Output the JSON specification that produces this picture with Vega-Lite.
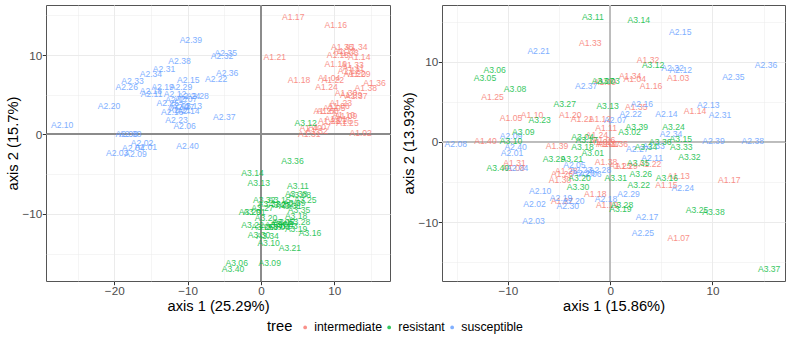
{
 "$schema": "https://vega.github.io/schema/vega-lite/v6.json",
 "padding": {"left": 4, "top": 3, "right": 4, "bottom": 0},
 "background": "white",
 "config": {
  "font": "Liberation Sans",
  "view": {"stroke": "#555555", "strokeWidth": 1},
  "axis": {"grid": true, "gridColor": "#EBEBEB", "domain": false, "tickColor": "#333333", "tickSize": 3.7, "labelColor": "#4D4D4D", "labelFontSize": 11.7, "labelPadding": 0.5, "titleFontSize": 14.7, "titleFontWeight": "normal", "titleColor": "#000000", "titlePadding": 1.5,
   "labelExpr": "datum.value % 10 == 0 ? datum.label : ''",
   "tickOpacity": {"condition": {"test": "datum.value % 10 == 0", "value": 1}, "value": 0},
   "gridWidth": {"condition": {"test": "datum.value % 10 == 0", "value": 1}, "value": 0.5}},
  "legend": {"titleFontSize": 14.7, "titleFontWeight": "normal", "labelFontSize": 12.3, "titleColor": "#000", "labelColor": "#000"}
 },
 "data": {"values": [
  {"panel":"left","label":"A1.01","tree":"intermediate","x":10.2,"y":2.0},
  {"panel":"left","label":"A1.02","tree":"intermediate","x":13.6,"y":0.2},
  {"panel":"left","label":"A1.03","tree":"intermediate","x":11.8,"y":10.2},
  {"panel":"left","label":"A1.04","tree":"intermediate","x":9.3,"y":7.1},
  {"panel":"left","label":"A1.05","tree":"intermediate","x":10.0,"y":3.3},
  {"panel":"left","label":"A1.06","tree":"intermediate","x":10.6,"y":3.6},
  {"panel":"left","label":"A1.07","tree":"intermediate","x":8.0,"y":1.0},
  {"panel":"left","label":"A1.08","tree":"intermediate","x":9.1,"y":2.9},
  {"panel":"left","label":"A1.09","tree":"intermediate","x":11.6,"y":2.3},
  {"panel":"left","label":"A1.10","tree":"intermediate","x":11.3,"y":2.5},
  {"panel":"left","label":"A1.11","tree":"intermediate","x":12.6,"y":8.4},
  {"panel":"left","label":"A1.12","tree":"intermediate","x":12.0,"y":8.0},
  {"panel":"left","label":"A1.13","tree":"intermediate","x":11.4,"y":10.5},
  {"panel":"left","label":"A1.14","tree":"intermediate","x":13.4,"y":9.8},
  {"panel":"left","label":"A1.15","tree":"intermediate","x":10.5,"y":10.0},
  {"panel":"left","label":"A1.16","tree":"intermediate","x":10.2,"y":13.8},
  {"panel":"left","label":"A1.17","tree":"intermediate","x":4.4,"y":14.8},
  {"panel":"left","label":"A1.18","tree":"intermediate","x":5.2,"y":6.9},
  {"panel":"left","label":"A1.19","tree":"intermediate","x":10.2,"y":8.9},
  {"panel":"left","label":"A1.20","tree":"intermediate","x":12.8,"y":7.6},
  {"panel":"left","label":"A1.21","tree":"intermediate","x":1.9,"y":9.7},
  {"panel":"left","label":"A1.22","tree":"intermediate","x":9.8,"y":6.9},
  {"panel":"left","label":"A1.23","tree":"intermediate","x":10.9,"y":4.0},
  {"panel":"left","label":"A1.24","tree":"intermediate","x":8.95,"y":6.0},
  {"panel":"left","label":"A1.25","tree":"intermediate","x":11.8,"y":1.4},
  {"panel":"left","label":"A1.26","tree":"intermediate","x":10.9,"y":1.7},
  {"panel":"left","label":"A1.27","tree":"intermediate","x":8.7,"y":3.0},
  {"panel":"left","label":"A1.28","tree":"intermediate","x":9.3,"y":1.7},
  {"panel":"left","label":"A1.29","tree":"intermediate","x":13.4,"y":7.6},
  {"panel":"left","label":"A1.30","tree":"intermediate","x":11.6,"y":5.2},
  {"panel":"left","label":"A1.31","tree":"intermediate","x":6.6,"y":0.0},
  {"panel":"left","label":"A1.32","tree":"intermediate","x":7.6,"y":0.4},
  {"panel":"left","label":"A1.33","tree":"intermediate","x":12.5,"y":8.7},
  {"panel":"left","label":"A1.34","tree":"intermediate","x":13.0,"y":11.0},
  {"panel":"left","label":"A1.35","tree":"intermediate","x":11.1,"y":11.0},
  {"panel":"left","label":"A1.36","tree":"intermediate","x":15.5,"y":6.5},
  {"panel":"left","label":"A1.37","tree":"intermediate","x":13.0,"y":4.9},
  {"panel":"left","label":"A1.38","tree":"intermediate","x":14.3,"y":5.8},
  {"panel":"left","label":"A1.39","tree":"intermediate","x":12.3,"y":5.0},
  {"panel":"left","label":"A1.40","tree":"intermediate","x":6.8,"y":0.8},
  {"panel":"left","label":"A2.01","tree":"susceptible","x":-15.7,"y":-1.6},
  {"panel":"left","label":"A2.02","tree":"susceptible","x":-16.2,"y":-1.05},
  {"panel":"left","label":"A2.03","tree":"susceptible","x":-19.6,"y":-2.3},
  {"panel":"left","label":"A2.04","tree":"susceptible","x":-17.4,"y":-1.65},
  {"panel":"left","label":"A2.05","tree":"susceptible","x":-11.1,"y":3.55},
  {"panel":"left","label":"A2.06","tree":"susceptible","x":-10.4,"y":1.05},
  {"panel":"left","label":"A2.07","tree":"susceptible","x":-10.2,"y":4.45},
  {"panel":"left","label":"A2.08","tree":"susceptible","x":-18.3,"y":0.1},
  {"panel":"left","label":"A2.09","tree":"susceptible","x":-17.1,"y":-2.4},
  {"panel":"left","label":"A2.10","tree":"susceptible","x":-27.1,"y":1.2},
  {"panel":"left","label":"A2.11","tree":"susceptible","x":-14.9,"y":5.15},
  {"panel":"left","label":"A2.12","tree":"susceptible","x":-11.7,"y":5.1},
  {"panel":"left","label":"A2.13","tree":"susceptible","x":-9.55,"y":3.55},
  {"panel":"left","label":"A2.14","tree":"susceptible","x":-9.9,"y":3.0},
  {"panel":"left","label":"A2.15","tree":"susceptible","x":-9.9,"y":6.8},
  {"panel":"left","label":"A2.16","tree":"susceptible","x":-12.1,"y":2.8},
  {"panel":"left","label":"A2.17","tree":"susceptible","x":-11.5,"y":4.4},
  {"panel":"left","label":"A2.18","tree":"susceptible","x":-15.0,"y":5.45},
  {"panel":"left","label":"A2.19","tree":"susceptible","x":-13.4,"y":6.0},
  {"panel":"left","label":"A2.20","tree":"susceptible","x":-20.7,"y":3.6},
  {"panel":"left","label":"A2.21","tree":"susceptible","x":-11.1,"y":3.05},
  {"panel":"left","label":"A2.22","tree":"susceptible","x":-6.1,"y":7.0},
  {"panel":"left","label":"A2.23","tree":"susceptible","x":-11.5,"y":1.8},
  {"panel":"left","label":"A2.24","tree":"susceptible","x":-9.8,"y":4.9},
  {"panel":"left","label":"A2.25","tree":"susceptible","x":-12.7,"y":4.0},
  {"panel":"left","label":"A2.26","tree":"susceptible","x":-18.3,"y":6.0},
  {"panel":"left","label":"A2.27","tree":"susceptible","x":-10.6,"y":3.4},
  {"panel":"left","label":"A2.28","tree":"susceptible","x":-8.65,"y":4.9},
  {"panel":"left","label":"A2.29","tree":"susceptible","x":-10.9,"y":6.0},
  {"panel":"left","label":"A2.30","tree":"susceptible","x":-17.8,"y":0.1},
  {"panel":"left","label":"A2.31","tree":"susceptible","x":-13.2,"y":8.2},
  {"panel":"left","label":"A2.32","tree":"susceptible","x":-5.3,"y":9.9},
  {"panel":"left","label":"A2.33","tree":"susceptible","x":-17.5,"y":6.7},
  {"panel":"left","label":"A2.34","tree":"susceptible","x":-15.0,"y":7.6},
  {"panel":"left","label":"A2.35","tree":"susceptible","x":-4.8,"y":10.2},
  {"panel":"left","label":"A2.36","tree":"susceptible","x":-4.6,"y":7.8},
  {"panel":"left","label":"A2.37","tree":"susceptible","x":-5.0,"y":2.2},
  {"panel":"left","label":"A2.38","tree":"susceptible","x":-11.1,"y":9.3},
  {"panel":"left","label":"A2.39","tree":"susceptible","x":-9.55,"y":11.95},
  {"panel":"left","label":"A2.40","tree":"susceptible","x":-10.0,"y":-1.4},
  {"panel":"left","label":"A3.01","tree":"resistant","x":-0.9,"y":-9.8},
  {"panel":"left","label":"A3.02","tree":"resistant","x":2.8,"y":-11.3},
  {"panel":"left","label":"A3.03","tree":"resistant","x":3.5,"y":-11.5},
  {"panel":"left","label":"A3.04","tree":"resistant","x":2.4,"y":-11.7},
  {"panel":"left","label":"A3.05","tree":"resistant","x":3.0,"y":-11.0},
  {"panel":"left","label":"A3.06","tree":"resistant","x":-3.3,"y":-16.2},
  {"panel":"left","label":"A3.07","tree":"resistant","x":1.5,"y":-11.6},
  {"panel":"left","label":"A3.08","tree":"resistant","x":5.3,"y":-7.6},
  {"panel":"left","label":"A3.09","tree":"resistant","x":1.2,"y":-16.2},
  {"panel":"left","label":"A3.10","tree":"resistant","x":1.05,"y":-13.7},
  {"panel":"left","label":"A3.11","tree":"resistant","x":5.05,"y":-6.5},
  {"panel":"left","label":"A3.12","tree":"resistant","x":6.1,"y":1.45},
  {"panel":"left","label":"A3.13","tree":"resistant","x":-0.3,"y":-6.1},
  {"panel":"left","label":"A3.14","tree":"resistant","x":-1.15,"y":-4.8},
  {"panel":"left","label":"A3.15","tree":"resistant","x":2.5,"y":-8.2},
  {"panel":"left","label":"A3.16","tree":"resistant","x":6.7,"y":-12.4},
  {"panel":"left","label":"A3.17","tree":"resistant","x":3.2,"y":-11.0},
  {"panel":"left","label":"A3.18","tree":"resistant","x":4.8,"y":-10.3},
  {"panel":"left","label":"A3.19","tree":"resistant","x":4.8,"y":-11.95},
  {"panel":"left","label":"A3.20","tree":"resistant","x":0.7,"y":-10.5},
  {"panel":"left","label":"A3.21","tree":"resistant","x":3.95,"y":-14.3},
  {"panel":"left","label":"A3.22","tree":"resistant","x":-1.15,"y":-11.4},
  {"panel":"left","label":"A3.23","tree":"resistant","x":2.5,"y":-8.9},
  {"panel":"left","label":"A3.24","tree":"resistant","x":3.6,"y":-8.7},
  {"panel":"left","label":"A3.25","tree":"resistant","x":6.05,"y":-8.3},
  {"panel":"left","label":"A3.26","tree":"resistant","x":0.2,"y":-11.6},
  {"panel":"left","label":"A3.27","tree":"resistant","x":0.2,"y":-9.3},
  {"panel":"left","label":"A3.28","tree":"resistant","x":5.2,"y":-11.0},
  {"panel":"left","label":"A3.29","tree":"resistant","x":-1.5,"y":-9.8},
  {"panel":"left","label":"A3.30","tree":"resistant","x":-0.25,"y":-12.7},
  {"panel":"left","label":"A3.31","tree":"resistant","x":4.0,"y":-9.0},
  {"panel":"left","label":"A3.32","tree":"resistant","x":0.45,"y":-8.3},
  {"panel":"left","label":"A3.33","tree":"resistant","x":1.1,"y":-8.8},
  {"panel":"left","label":"A3.34","tree":"resistant","x":0.9,"y":-12.8},
  {"panel":"left","label":"A3.35","tree":"resistant","x":5.2,"y":-9.5},
  {"panel":"left","label":"A3.36","tree":"resistant","x":4.3,"y":-3.3},
  {"panel":"left","label":"A3.37","tree":"resistant","x":2.05,"y":-11.4},
  {"panel":"left","label":"A3.38","tree":"resistant","x":4.8,"y":-7.5},
  {"panel":"left","label":"A3.39","tree":"resistant","x":4.55,"y":-8.6},
  {"panel":"left","label":"A3.40","tree":"resistant","x":-3.8,"y":-16.9},
  {"panel":"right","label":"A1.01","tree":"intermediate","x":-0.3,"y":-0.3},
  {"panel":"right","label":"A1.02","tree":"intermediate","x":-0.9,"y":0.0},
  {"panel":"right","label":"A1.03","tree":"intermediate","x":6.65,"y":8.0},
  {"panel":"right","label":"A1.04","tree":"intermediate","x":2.4,"y":7.8},
  {"panel":"right","label":"A1.05","tree":"intermediate","x":-9.7,"y":3.0},
  {"panel":"right","label":"A1.06","tree":"intermediate","x":-0.6,"y":0.2},
  {"panel":"right","label":"A1.07","tree":"intermediate","x":6.7,"y":-12.0},
  {"panel":"right","label":"A1.08","tree":"intermediate","x":-9.45,"y":-3.3},
  {"panel":"right","label":"A1.09","tree":"intermediate","x":-0.5,"y":7.5},
  {"panel":"right","label":"A1.10","tree":"intermediate","x":-7.65,"y":3.4},
  {"panel":"right","label":"A1.11","tree":"intermediate","x":-0.4,"y":1.75},
  {"panel":"right","label":"A1.12","tree":"intermediate","x":-1.0,"y":2.8},
  {"panel":"right","label":"A1.13","tree":"intermediate","x":6.7,"y":-4.2},
  {"panel":"right","label":"A1.14","tree":"intermediate","x":8.3,"y":3.8},
  {"panel":"right","label":"A1.15","tree":"intermediate","x":5.5,"y":-5.4},
  {"panel":"right","label":"A1.16","tree":"intermediate","x":4.0,"y":6.95},
  {"panel":"right","label":"A1.17","tree":"intermediate","x":11.65,"y":-4.7},
  {"panel":"right","label":"A1.18","tree":"intermediate","x":-1.45,"y":-6.45},
  {"panel":"right","label":"A1.19","tree":"intermediate","x":-0.3,"y":-7.85},
  {"panel":"right","label":"A1.20","tree":"intermediate","x":-3.9,"y":3.3},
  {"panel":"right","label":"A1.21","tree":"intermediate","x":-2.75,"y":2.8},
  {"panel":"right","label":"A1.22","tree":"intermediate","x":3.9,"y":-2.8},
  {"panel":"right","label":"A1.23","tree":"intermediate","x":1.0,"y":-3.0},
  {"panel":"right","label":"A1.24","tree":"intermediate","x":-1.3,"y":0.85},
  {"panel":"right","label":"A1.25","tree":"intermediate","x":-11.5,"y":5.6},
  {"panel":"right","label":"A1.26","tree":"intermediate","x":-4.7,"y":-4.0},
  {"panel":"right","label":"A1.27","tree":"intermediate","x":-4.7,"y":-7.35},
  {"panel":"right","label":"A1.28","tree":"intermediate","x":-4.3,"y":-3.6},
  {"panel":"right","label":"A1.29","tree":"intermediate","x":1.6,"y":-3.0},
  {"panel":"right","label":"A1.30","tree":"intermediate","x":-4.9,"y":-4.8},
  {"panel":"right","label":"A1.31","tree":"intermediate","x":-9.35,"y":-2.6},
  {"panel":"right","label":"A1.32","tree":"intermediate","x":3.7,"y":10.2},
  {"panel":"right","label":"A1.33","tree":"intermediate","x":-1.95,"y":12.3},
  {"panel":"right","label":"A1.34","tree":"intermediate","x":1.95,"y":8.2},
  {"panel":"right","label":"A1.35","tree":"intermediate","x":2.55,"y":4.35},
  {"panel":"right","label":"A1.36","tree":"intermediate","x":0.65,"y":-0.3},
  {"panel":"right","label":"A1.37","tree":"intermediate","x":-0.1,"y":-0.3},
  {"panel":"right","label":"A1.38","tree":"intermediate","x":-0.4,"y":-2.5},
  {"panel":"right","label":"A1.39","tree":"intermediate","x":-5.2,"y":-0.55},
  {"panel":"right","label":"A1.40","tree":"intermediate","x":-12.2,"y":0.1},
  {"panel":"right","label":"A2.01","tree":"susceptible","x":-9.6,"y":-1.45},
  {"panel":"right","label":"A2.02","tree":"susceptible","x":-7.4,"y":-7.75},
  {"panel":"right","label":"A2.03","tree":"susceptible","x":-7.5,"y":-9.9},
  {"panel":"right","label":"A2.04","tree":"susceptible","x":-9.1,"y":-3.3},
  {"panel":"right","label":"A2.05","tree":"susceptible","x":-3.5,"y":-2.9},
  {"panel":"right","label":"A2.06","tree":"susceptible","x":-1.95,"y":-3.95},
  {"panel":"right","label":"A2.07","tree":"susceptible","x":0.5,"y":2.7},
  {"panel":"right","label":"A2.08","tree":"susceptible","x":-15.1,"y":-0.3},
  {"panel":"right","label":"A2.09","tree":"susceptible","x":-9.7,"y":0.7},
  {"panel":"right","label":"A2.10","tree":"susceptible","x":-6.85,"y":-6.1},
  {"panel":"right","label":"A2.11","tree":"susceptible","x":4.1,"y":-2.0},
  {"panel":"right","label":"A2.12","tree":"susceptible","x":6.9,"y":8.9},
  {"panel":"right","label":"A2.13","tree":"susceptible","x":9.6,"y":4.65},
  {"panel":"right","label":"A2.14","tree":"susceptible","x":5.5,"y":3.45},
  {"panel":"right","label":"A2.15","tree":"susceptible","x":6.85,"y":13.65},
  {"panel":"right","label":"A2.16","tree":"susceptible","x":3.1,"y":4.7},
  {"panel":"right","label":"A2.17","tree":"susceptible","x":3.6,"y":-9.4},
  {"panel":"right","label":"A2.18","tree":"susceptible","x":-0.4,"y":-7.1},
  {"panel":"right","label":"A2.19","tree":"susceptible","x":-4.8,"y":-7.0},
  {"panel":"right","label":"A2.20","tree":"susceptible","x":-3.6,"y":-7.35},
  {"panel":"right","label":"A2.21","tree":"susceptible","x":-7.0,"y":11.3},
  {"panel":"right","label":"A2.22","tree":"susceptible","x":2.0,"y":3.45},
  {"panel":"right","label":"A2.23","tree":"susceptible","x":-2.85,"y":-3.45},
  {"panel":"right","label":"A2.24","tree":"susceptible","x":7.1,"y":-5.7},
  {"panel":"right","label":"A2.25","tree":"susceptible","x":3.2,"y":-11.4},
  {"panel":"right","label":"A2.26","tree":"susceptible","x":-2.6,"y":-3.9},
  {"panel":"right","label":"A2.27","tree":"susceptible","x":2.65,"y":-0.9},
  {"panel":"right","label":"A2.28","tree":"susceptible","x":-1.0,"y":-3.45},
  {"panel":"right","label":"A2.29","tree":"susceptible","x":1.8,"y":-6.45},
  {"panel":"right","label":"A2.30","tree":"susceptible","x":-4.15,"y":-7.95},
  {"panel":"right","label":"A2.31","tree":"susceptible","x":10.75,"y":3.3},
  {"panel":"right","label":"A2.32","tree":"susceptible","x":6.1,"y":9.25},
  {"panel":"right","label":"A2.33","tree":"susceptible","x":4.25,"y":-0.55},
  {"panel":"right","label":"A2.34","tree":"susceptible","x":5.95,"y":0.95},
  {"panel":"right","label":"A2.35","tree":"susceptible","x":12.05,"y":8.05},
  {"panel":"right","label":"A2.36","tree":"susceptible","x":15.25,"y":9.55},
  {"panel":"right","label":"A2.37","tree":"susceptible","x":-2.35,"y":6.95},
  {"panel":"right","label":"A2.38","tree":"susceptible","x":13.95,"y":0.1},
  {"panel":"right","label":"A2.39","tree":"susceptible","x":10.1,"y":0.1},
  {"panel":"right","label":"A2.40","tree":"susceptible","x":-9.25,"y":-0.6},
  {"panel":"right","label":"A3.01","tree":"resistant","x":-1.7,"y":-1.35},
  {"panel":"right","label":"A3.02","tree":"resistant","x":1.9,"y":1.25},
  {"panel":"right","label":"A3.03","tree":"resistant","x":-0.15,"y":7.55},
  {"panel":"right","label":"A3.04","tree":"resistant","x":-2.7,"y":0.6},
  {"panel":"right","label":"A3.05","tree":"resistant","x":-12.25,"y":8.0},
  {"panel":"right","label":"A3.06","tree":"resistant","x":-11.3,"y":8.9},
  {"panel":"right","label":"A3.07","tree":"resistant","x":-0.7,"y":7.55},
  {"panel":"right","label":"A3.08","tree":"resistant","x":-9.3,"y":6.6},
  {"panel":"right","label":"A3.09","tree":"resistant","x":-8.5,"y":1.2},
  {"panel":"right","label":"A3.10","tree":"resistant","x":-9.7,"y":0.1},
  {"panel":"right","label":"A3.11","tree":"resistant","x":-1.7,"y":15.6},
  {"panel":"right","label":"A3.12","tree":"resistant","x":4.2,"y":9.55},
  {"panel":"right","label":"A3.13","tree":"resistant","x":-0.25,"y":4.5},
  {"panel":"right","label":"A3.14","tree":"resistant","x":2.8,"y":15.2},
  {"panel":"right","label":"A3.15","tree":"resistant","x":6.9,"y":0.4},
  {"panel":"right","label":"A3.16","tree":"resistant","x":5.55,"y":-4.5},
  {"panel":"right","label":"A3.17","tree":"resistant","x":-2.3,"y":0.2},
  {"panel":"right","label":"A3.18","tree":"resistant","x":-2.7,"y":-0.6},
  {"panel":"right","label":"A3.19","tree":"resistant","x":1.0,"y":-8.4},
  {"panel":"right","label":"A3.20","tree":"resistant","x":-3.0,"y":-4.5},
  {"panel":"right","label":"A3.21","tree":"resistant","x":-3.75,"y":-2.1},
  {"panel":"right","label":"A3.22","tree":"resistant","x":2.8,"y":-5.35},
  {"panel":"right","label":"A3.23","tree":"resistant","x":-6.9,"y":2.7},
  {"panel":"right","label":"A3.24","tree":"resistant","x":6.2,"y":1.9},
  {"panel":"right","label":"A3.25","tree":"resistant","x":8.5,"y":-8.55},
  {"panel":"right","label":"A3.26","tree":"resistant","x":3.0,"y":-4.0},
  {"panel":"right","label":"A3.27","tree":"resistant","x":-4.45,"y":4.7},
  {"panel":"right","label":"A3.28","tree":"resistant","x":1.15,"y":-7.85},
  {"panel":"right","label":"A3.29","tree":"resistant","x":-5.5,"y":-2.1},
  {"panel":"right","label":"A3.30","tree":"resistant","x":-3.15,"y":-5.6},
  {"panel":"right","label":"A3.31","tree":"resistant","x":0.55,"y":-4.5},
  {"panel":"right","label":"A3.32","tree":"resistant","x":7.75,"y":-1.85},
  {"panel":"right","label":"A3.33","tree":"resistant","x":6.95,"y":-0.6},
  {"panel":"right","label":"A3.34","tree":"resistant","x":3.5,"y":-0.6},
  {"panel":"right","label":"A3.35","tree":"resistant","x":2.75,"y":-2.6},
  {"panel":"right","label":"A3.36","tree":"resistant","x":4.9,"y":0.0},
  {"panel":"right","label":"A3.37","tree":"resistant","x":15.55,"y":-15.8},
  {"panel":"right","label":"A3.38","tree":"resistant","x":10.1,"y":-8.75},
  {"panel":"right","label":"A3.39","tree":"resistant","x":2.6,"y":1.8},
  {"panel":"right","label":"A3.40","tree":"resistant","x":-11.0,"y":-3.3}
 ]},
 "spacing": 9,
 "hconcat": [
  {
   "width": 344, "height": 276,
   "transform": [{"filter": "datum.panel == 'left'"}],
   "layer": [
    {"mark": {"type": "rule", "color": "#8c8c8c", "strokeWidth": 1}, "encoding": {"x": {"datum": 0, "type": "quantitative"}}},
    {"mark": {"type": "rule", "color": "#8c8c8c", "strokeWidth": 1}, "encoding": {"y": {"datum": 0, "type": "quantitative"}}},
    {"mark": {"type": "text", "fontSize": 8.6, "opacity": 0.8, "align": "center", "baseline": "middle"},
     "encoding": {
      "x": {"field": "x", "type": "quantitative", "scale": {"domain": [-29.3, 17.6], "nice": false, "zero": false}, "axis": {"title": "axis 1 (25.29%)", "values": [-25, -20, -15, -10, -5, 0, 5, 10, 15]}},
      "y": {"field": "y", "type": "quantitative", "scale": {"domain": [-18.45, 16.3], "nice": false, "zero": false}, "axis": {"title": "axis 2 (15.7%)", "values": [-15, -10, -5, 0, 5, 10, 15]}},
      "text": {"field": "label"},
      "color": {"field": "tree", "type": "nominal", "scale": {"domain": ["intermediate", "resistant", "susceptible"], "range": ["#F8766D", "#00BA38", "#619CFF"]},
       "legend": {"title": "tree", "orient": "none", "legendX": 221, "legendY": 316, "direction": "horizontal", "titleOrient": "left", "titleBaseline": "middle", "titlePadding": 6, "symbolType": "circle", "symbolSize": 14, "symbolOpacity": 0.6, "columnPadding": 1, "labelOffset": 3}}
     }}
   ]
  },
  {
   "width": 343, "height": 276,
   "transform": [{"filter": "datum.panel == 'right'"}],
   "layer": [
    {"mark": {"type": "rule", "color": "#bdbdbd", "strokeWidth": 1.2}, "encoding": {"x": {"datum": 0, "type": "quantitative"}}},
    {"mark": {"type": "rule", "color": "#bdbdbd", "strokeWidth": 1.2}, "encoding": {"y": {"datum": 0, "type": "quantitative"}}},
    {"mark": {"type": "text", "fontSize": 8.6, "opacity": 0.8, "align": "center", "baseline": "middle"},
     "encoding": {
      "x": {"field": "x", "type": "quantitative", "scale": {"domain": [-16.45, 17.1], "nice": false, "zero": false}, "axis": {"title": "axis 1 (15.86%)", "values": [-15, -10, -5, 0, 5, 10, 15]}},
      "y": {"field": "y", "type": "quantitative", "scale": {"domain": [-17.35, 17.06], "nice": false, "zero": false}, "axis": {"title": "axis 2 (13.93%)", "values": [-15, -10, -5, 0, 5, 10, 15]}},
      "text": {"field": "label"},
      "color": {"field": "tree", "type": "nominal", "scale": {"domain": ["intermediate", "resistant", "susceptible"], "range": ["#F8766D", "#00BA38", "#619CFF"]}}
     }}
   ]
  }
 ]
}
